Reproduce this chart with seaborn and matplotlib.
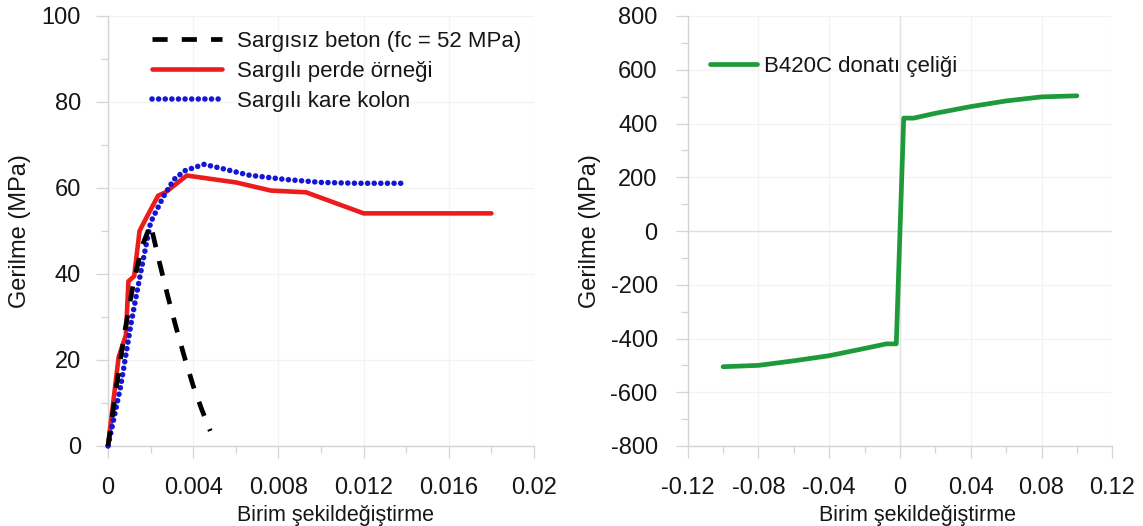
import numpy as np
import pandas as pd
import matplotlib
matplotlib.use("Agg")
import matplotlib.pyplot as plt
from matplotlib.ticker import FixedLocator, FixedFormatter, MultipleLocator
import seaborn as sns

# ---- concrete stress-strain curves (strain, MPa) ----
unconf_strain = [0.0, 0.0004, 0.0008, 0.0012, 0.0016, 0.0020, 0.0024, 0.0028,
                 0.0032, 0.0036, 0.0040, 0.0044, 0.0048]
unconf_stress = [0.0, 14.0, 27.0, 38.0, 46.5, 51.5, 43.0, 35.0,
                 27.5, 20.5, 14.0, 8.5, 3.5]

wall_strain = [0.0, 0.0005, 0.00084, 0.00096, 0.00123, 0.00148, 0.00176, 0.00235,
               0.0027, 0.0037, 0.0060, 0.00765, 0.0093, 0.0120, 0.0180]
wall_stress = [0.0, 20.7, 25.8, 38.3, 39.5, 50.0, 52.7, 58.2,
               59.0, 62.9, 61.3, 59.4, 59.0, 54.1, 54.1]

col_strain = [0.0, 0.0006, 0.0011, 0.0016, 0.0020, 0.0026, 0.0031, 0.0036,
              0.0045, 0.0053, 0.0066, 0.0083, 0.0100, 0.0117, 0.0138]
col_stress = [0.0, 14.0, 29.0, 42.0, 52.0, 58.0, 62.0, 64.0,
              65.5, 64.6, 63.0, 62.0, 61.3, 61.1, 61.1]

# ---- reinforcing steel curve ----
steel_strain = [-0.10, -0.08, -0.06, -0.04, -0.02, -0.0077, -0.0021,
                0.0021, 0.0077, 0.02, 0.04, 0.06, 0.08, 0.10]
steel_stress = [-505, -500, -483, -464, -437, -420, -420,
                420, 420, 438, 463, 484, 499, 503]

# ---- axis ticks and labels ----
left_xticks = [0.0, 0.004, 0.008, 0.012, 0.016, 0.02]
left_xlabels = ["0", "0.004", "0.008", "0.012", "0.016", "0.02"]
left_yticks = [0, 20, 40, 60, 80, 100]
left_ylabels = ["0", "20", "40", "60", "80", "100"]
right_xticks = [-0.12, -0.08, -0.04, 0.0, 0.04, 0.08, 0.12]
right_xlabels = ["-0.12", "-0.08", "-0.04", "0", "0.04", "0.08", "0.12"]
right_yticks = [-800, -600, -400, -200, 0, 200, 400, 600, 800]
right_ylabels = ["-800", "-600", "-400", "-200", "0", "200", "400", "600", "800"]

x_title = "Birim şekildeğiştirme"
y_title = "Gerilme (MPa)"
lbl_unconf = "Sargısız beton (fc = 52 MPa)"
lbl_wall = "Sargılı perde örneği"
lbl_col = "Sargılı kare kolon"
lbl_steel = "B420C donatı çeliği"

sns.set_style("white")
plt.rcParams["font.family"] = ["Liberation Sans", "DejaVu Sans"]
plt.rcParams["axes.unicode_minus"] = False

W, H = 1143, 526
fig = plt.figure(figsize=(W / 100, H / 100), dpi=100)
ax1 = fig.add_axes([108 / W, 1 - 446 / H, 426 / W, 430 / H])
ax2 = fig.add_axes([687.7 / W, 1 - 446 / H, 424.6 / W, 430 / H])

txt_col = "#161616"
axis_col = "#d4d4d4"
grid_col = "#f3f3f3"

# concrete curves
sns.lineplot(x=col_strain, y=col_stress, ax=ax1, sort=False, estimator=None,
             color="#1515d4", lw=4.0, linestyle=(0, (0.01, 1.18)),
             dash_capstyle="round", label=lbl_col, zorder=4, clip_on=False)
sns.lineplot(x=wall_strain, y=wall_stress, ax=ax1, sort=False, estimator=None,
             color="#ec1c1c", lw=3.3, label=lbl_wall, zorder=3, clip_on=False)
sns.lineplot(x=unconf_strain, y=unconf_stress, ax=ax1, sort=False, estimator=None,
             color="black", lw=3.4, linestyle=(0, (3.2, 3.0)),
             label=lbl_unconf, zorder=5, clip_on=False)

# steel curve
sns.lineplot(x=steel_strain, y=steel_stress, ax=ax2, sort=False, estimator=None,
             color="#1f9a3b", lw=3.4, label=lbl_steel, zorder=4)
ax2.axhline(0, color="#e0e0e0", lw=1.0, zorder=1)
ax2.axvline(0, color="#e0e0e0", lw=1.0, zorder=1)

setups = [
    (ax1, (0, 0.02), (0, 100), left_xticks, left_xlabels, left_yticks, left_ylabels,
     0.002, 10, 11, -0.181, 0.533),
    (ax2, (-0.12, 0.12), (-800, 800), right_xticks, right_xlabels, right_yticks,
     right_ylabels, 0.02, 100, 13, -0.204, 0.541),
]
for ax, xl, yl, xt, xtl, yt, ytl, xmin, ymin, ypad, ylx, xlx in setups:
    ax.set_xlim(*xl)
    ax.set_ylim(*yl)
    ax.xaxis.set_major_locator(FixedLocator(xt))
    ax.xaxis.set_major_formatter(FixedFormatter(xtl))
    ax.yaxis.set_major_locator(FixedLocator(yt))
    ax.yaxis.set_major_formatter(FixedFormatter(ytl))
    ax.xaxis.set_minor_locator(MultipleLocator(xmin))
    ax.yaxis.set_minor_locator(MultipleLocator(ymin))
    ax.grid(True, which="major", color=grid_col, lw=0.9, zorder=0)
    ax.set_axisbelow(True)
    for s in ["top", "right"]:
        ax.spines[s].set_visible(False)
    for s in ["left", "bottom"]:
        ax.spines[s].set_color(axis_col)
        ax.spines[s].set_linewidth(1.0)
    ax.tick_params(which="major", direction="out", length=8.6, width=0.9,
                   color=axis_col, labelsize=17, labelcolor=txt_col)
    ax.tick_params(which="minor", direction="out", length=5, width=0.9,
                   color=axis_col)
    ax.tick_params(axis="x", which="both", bottom=True, pad=13.5)
    ax.tick_params(axis="y", which="both", left=True, pad=ypad)
    ax.set_xlabel(x_title, fontsize=15.5, color=txt_col)
    ax.set_ylabel(y_title, fontsize=17, color=txt_col)
    ax.xaxis.set_label_coords(xlx, -0.137)
    ax.xaxis.label.set_va("top")
    ax.yaxis.set_label_coords(ylx, 0.5)

# legends
h, l = ax1.get_legend_handles_labels()
order = [l.index(lbl_unconf), l.index(lbl_wall), l.index(lbl_col)]
ax1.legend([h[i] for i in order], [l[i] for i in order],
           loc="upper left", bbox_to_anchor=(152 / W, 1 - 31 / H),
           bbox_transform=fig.transFigure, frameon=False, fontsize=16,
           handlelength=3.15, handletextpad=0.68, labelspacing=0.4,
           borderpad=0, borderaxespad=0, labelcolor=txt_col)
ax2.legend(loc="upper left", bbox_to_anchor=(710 / W, 1 - 56 / H),
           bbox_transform=fig.transFigure, frameon=False, fontsize=16,
           handlelength=2.1, handletextpad=0.35, borderpad=0,
           borderaxespad=0, labelcolor=txt_col)

fig.savefig("out.png", dpi=100, facecolor="white")
